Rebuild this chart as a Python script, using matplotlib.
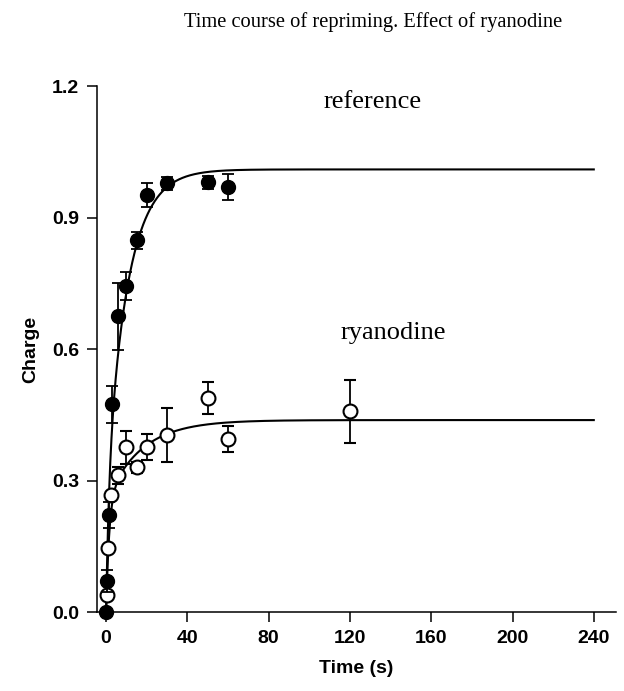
import numpy as np
import matplotlib
matplotlib.use("Agg")
import matplotlib.pyplot as plt

# Reference (filled circles)
ref_time = [0, 0.5, 1.5, 3, 6, 10, 15, 20, 30, 50, 60]
ref_charge = [0.0, 0.07, 0.222, 0.474, 0.675, 0.745, 0.848, 0.952, 0.978, 0.981, 0.970]
ref_err = [0.0, 0.025, 0.03, 0.042, 0.076, 0.032, 0.02, 0.028, 0.015, 0.015, 0.029]

# Ryanodine (open circles)
rya_time = [0.5, 1, 2.5, 6, 10, 15, 20, 30, 50, 60, 120]
rya_charge = [0.038, 0.147, 0.266, 0.312, 0.376, 0.330, 0.376, 0.404, 0.489, 0.395, 0.458]
rya_err = [0.0, 0.0, 0.0, 0.019, 0.038, 0.012, 0.03, 0.061, 0.036, 0.029, 0.072]

# double-exponential fit parameters (fast amp, fast tau, slow amp, slow tau)
ref_fit = (0.27, 1.4, 0.74, 10.3)
rya_fit = (0.253, 1.5, 0.185, 17.0)

x_ticks = [0, 40, 80, 120, 160, 200, 240]
y_ticks = [0.0, 0.3, 0.6, 0.9, 1.2]


def biexp(t, a1, t1, a2, t2):
    return a1 * (1 - np.exp(-t / t1)) + a2 * (1 - np.exp(-t / t2))


fig = plt.figure(figsize=(6.24, 6.91), dpi=100)
ax = fig.add_axes([0.1554, 0.1143, 0.832, 0.761])

tt = np.linspace(0, 240, 2000)
ax.plot(tt, biexp(tt, *ref_fit), color="black", lw=1.5, zorder=2)
ax.plot(tt, biexp(tt, *rya_fit), color="black", lw=1.5, zorder=2)

ax.errorbar(rya_time, rya_charge, yerr=rya_err, fmt="o", ms=10, mfc="white",
            mec="black", mew=1.5, ecolor="black", elinewidth=1.3, capsize=4,
            capthick=1.3, clip_on=False, zorder=3)
ax.errorbar(ref_time, ref_charge, yerr=ref_err, fmt="o", ms=10, mfc="black",
            mec="black", ecolor="black", elinewidth=1.3, capsize=4,
            capthick=1.3, clip_on=False, zorder=4)

ax.set_xlim(-4.5, 251)
ax.set_ylim(0, 1.2)
ax.set_xticks(x_ticks)
ax.set_yticks(y_ticks)
ax.set_yticklabels([f"{v:.1f}" for v in y_ticks])
for side in ["top", "right"]:
    ax.spines[side].set_visible(False)
for side in ["left", "bottom"]:
    ax.spines[side].set_linewidth(1.1)
ax.tick_params(direction="out", length=7, width=1.1, labelsize=14, pad=6)
for lbl in ax.get_xticklabels() + ax.get_yticklabels():
    lbl.set_fontfamily("Liberation Sans")
    lbl.set_fontweight("bold")

ax.set_xlabel("Time (s)", fontfamily="Liberation Sans", fontweight="bold",
              fontsize=14, labelpad=9)
ax.set_ylabel("Charge", fontfamily="Liberation Sans", fontweight="bold",
              fontsize=14, labelpad=9)

ax.text(131, 1.165, "reference", fontfamily="Liberation Serif", fontsize=19,
        ha="center", va="center")
ax.text(141.5, 0.636, "ryanodine", fontfamily="Liberation Serif", fontsize=19,
        ha="center", va="center")

fig.text(0.598, 0.968, "Time course of repriming. Effect of ryanodine",
         fontfamily="Liberation Serif", fontsize=14.8, ha="center", va="center")

fig.savefig("out.png", dpi=100)
